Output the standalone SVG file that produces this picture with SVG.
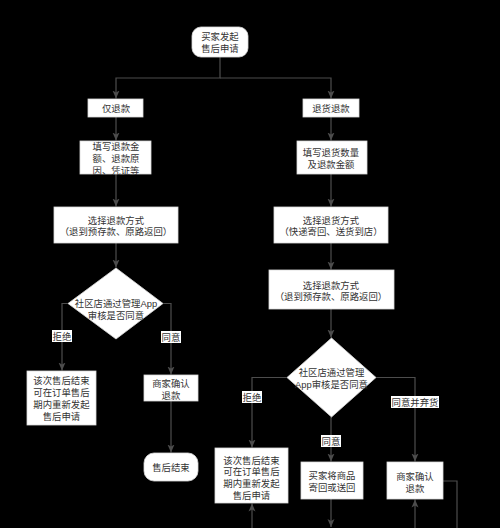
<svg xmlns="http://www.w3.org/2000/svg" width="500" height="528" viewBox="0 0 500 528">
<defs>
<style>
.n{fill:#ffffff;stroke:#d9d9d9;stroke-width:0.8}
.t{font-family:"Liberation Sans","Noto Sans CJK SC",sans-serif;font-size:9.4px;fill:#333333;text-anchor:middle}
.c{fill:none;stroke:#4d4d4d;stroke-width:1.2}
.lb{fill:#ffffff}
</style>
<marker id="ah" markerUnits="userSpaceOnUse" markerWidth="9" markerHeight="9" refX="8" refY="4" orient="auto">
<path d="M0,0.5 L8,4 L0,7.5 L2,4 Z" fill="#4d4d4d"/>
</marker>
</defs>
<rect width="500" height="528" fill="#000000"/>
<g id="connectors">
<path class="c" d="M220,57 V78 H116 V98.5" marker-end="url(#ah)"/>
<path class="c" d="M220,78 H331 V98.5" marker-end="url(#ah)"/>
<path class="c" d="M116,117 V140.5" marker-end="url(#ah)"/>
<path class="c" d="M116,174 V206.5" marker-end="url(#ah)"/>
<path class="c" d="M116,243 V267.5" marker-end="url(#ah)"/>
<path class="c" d="M68,303.5 H62 V370.5" marker-end="url(#ah)"/>
<path class="c" d="M163,303.5 H171 V374.5" marker-end="url(#ah)"/>
<path class="c" d="M171,401 V452.5" marker-end="url(#ah)"/>
<path class="c" d="M331,117 V140.5" marker-end="url(#ah)"/>
<path class="c" d="M331,174 V206.5" marker-end="url(#ah)"/>
<path class="c" d="M331,243 V269.5" marker-end="url(#ah)"/>
<path class="c" d="M331,309 V337.5" marker-end="url(#ah)"/>
<path class="c" d="M287,377.5 H252 V447.5" marker-end="url(#ah)"/>
<path class="c" d="M331,417 V461.5" marker-end="url(#ah)"/>
<path class="c" d="M376,377.5 H415 V461.5" marker-end="url(#ah)"/>
<path class="c" d="M252,530 V503.5" marker-end="url(#ah)"/>
<path class="c" d="M331,499 V527" marker-end="url(#ah)"/>
<path class="c" d="M415,530 V499.5" marker-end="url(#ah)"/>
<path class="c" d="M443,481 H457 V530"/>
<rect class="lb" x="52" y="330" width="20" height="12"/>
<text class="t" x="62" y="339.5">拒绝</text>
<rect class="lb" x="161" y="331" width="20" height="12"/>
<text class="t" x="171" y="340.5">同意</text>
<rect class="lb" x="242" y="391" width="20" height="12"/>
<text class="t" x="252" y="400.5">拒绝</text>
<rect class="lb" x="321" y="435" width="20" height="12"/>
<text class="t" x="331" y="444.5">同意</text>
<rect class="lb" x="391" y="396" width="48" height="12"/>
<text class="t" x="415" y="405.5">同意并弃货</text>
</g>
<g id="start">
<rect class="n" x="192" y="27" width="56" height="30" rx="9"/>
<text class="t" x="220" y="39.8">买家发起</text>
<text class="t" x="220" y="51.8">售后申请</text>
</g>
<g id="refund-only">
<rect class="n" x="88" y="99" width="55" height="18"/>
<text class="t" x="116" y="111.5">仅退款</text>
</g>
<g id="return-refund">
<rect class="n" x="303" y="99" width="56" height="18"/>
<text class="t" x="331" y="111.5">退货退款</text>
</g>
<g id="fill-refund">
<rect class="n" x="80" y="141" width="71" height="33"/>
<text class="t" x="116" y="150.2">填写退款金</text>
<text class="t" x="116" y="161.8">额、退款原</text>
<text class="t" x="116" y="173.5">因、凭证等</text>
</g>
<g id="fill-return">
<rect class="n" x="297" y="141" width="70" height="33"/>
<text class="t" x="331" y="156.2">填写退货数量</text>
<text class="t" x="331" y="167.6">及退款金额</text>
</g>
<g id="choose-refund-left">
<rect class="n" x="54" y="207" width="124" height="36"/>
<text class="t" x="116" y="223.5">选择退款方式</text>
<text class="t" x="116" y="234.8">（退到预存款、原路返回）</text>
</g>
<g id="choose-return">
<rect class="n" x="274" y="207" width="114" height="36"/>
<text class="t" x="331" y="223.5">选择退货方式</text>
<text class="t" x="331" y="234.8">（快递寄回、送货到店）</text>
</g>
<g id="choose-refund-right">
<rect class="n" x="269" y="270" width="125" height="39"/>
<text class="t" x="331" y="288.5">选择退款方式</text>
<text class="t" x="331" y="299.8">（退到预存款、原路返回）</text>
</g>
<g id="review-left">
<polygon class="n" points="116,268 163,303.5 116,339 68,303.5"/>
<text class="t" x="116" y="306.5">社区店通过管理App</text>
<text class="t" x="116" y="318.5">审核是否同意</text>
</g>
<g id="review-right">
<polygon class="n" points="331.5,338 376,377.5 331.5,417 287,377.5"/>
<text class="t" x="331.5" y="375.5">社区店通过管理</text>
<text class="t" x="331.5" y="387.5">App审核是否同意</text>
</g>
<g id="end-reject-left">
<rect class="n" x="27" y="371" width="69" height="54"/>
<text class="t" x="61.5" y="383.5">该次售后结束</text>
<text class="t" x="61.5" y="395.5">可在订单售后</text>
<text class="t" x="61.5" y="407.5">期内重新发起</text>
<text class="t" x="61.5" y="419.5">售后申请</text>
</g>
<g id="confirm-left">
<rect class="n" x="144" y="375" width="54" height="26"/>
<text class="t" x="171" y="386.5">商家确认</text>
<text class="t" x="171" y="398.5">退款</text>
</g>
<g id="finish">
<rect class="n" x="144" y="453" width="54" height="28" rx="10"/>
<text class="t" x="171" y="470.5">售后结束</text>
</g>
<g id="end-reject-right">
<rect class="n" x="215" y="448" width="73" height="55"/>
<text class="t" x="251.5" y="463.5">该次售后结束</text>
<text class="t" x="251.5" y="475.3">可在订单售后</text>
<text class="t" x="251.5" y="487">期内重新发起</text>
<text class="t" x="251.5" y="498.7">售后申请</text>
</g>
<g id="buyer-return">
<rect class="n" x="301" y="462" width="62" height="37"/>
<text class="t" x="332" y="479.3">买家将商品</text>
<text class="t" x="332" y="491.3">寄回或送回</text>
</g>
<g id="confirm-right">
<rect class="n" x="387" y="462" width="56" height="37"/>
<text class="t" x="415" y="480.3">商家确认</text>
<text class="t" x="415" y="492">退款</text>
</g>
</svg>
